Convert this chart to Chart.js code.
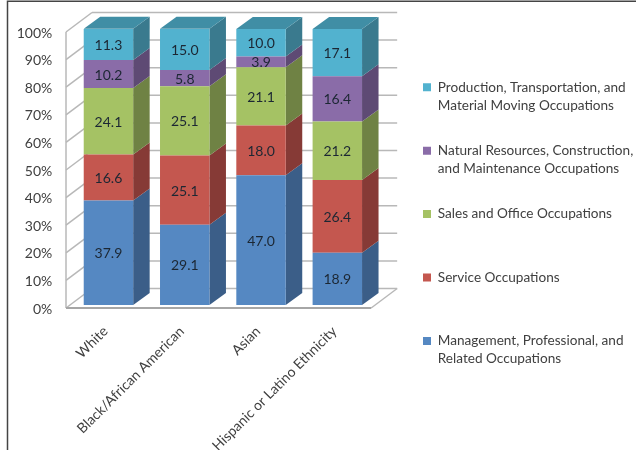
<!DOCTYPE html>
<html>
<head>
<meta charset="utf-8">
<title>Occupations by race and ethnicity</title>
<script src="https://cdn.jsdelivr.net/npm/chart.js@4/dist/chart.umd.min.js"></script>
<style>
    html, body { margin: 0; padding: 0; background: #fff; }
    canvas { display: block; }
</style>
</head>
<body>
<canvas id="occupationChart" width="636" height="450"></canvas>
<script>
const categories = ['White', 'Black/African American', 'Asian', 'Hispanic or Latino Ethnicity']

const management = [37.9, 29.1, 47.0, 18.9]
const service = [16.6, 25.1, 18.0, 26.4]
const salesOffice = [24.1, 25.1, 21.1, 21.2]
const naturalResources = [10.2, 5.8, 3.9, 16.4]
const production = [11.3, 15.0, 10.0, 17.1]

const seriesNames = [
    'Management, Professional, and Related Occupations',
    'Service Occupations',
    'Sales and Office Occupations',
    'Natural Resources, Construction, and Maintenance Occupations',
    'Production, Transportation, and Material Moving Occupations'
]
const legendLines = [
    ['Management, Professional, and', 'Related Occupations'],
    ['Service Occupations', ''],
    ['Sales and Office Occupations', ''],
    ['Natural Resources, Construction,', 'and Maintenance Occupations'],
    ['Production, Transportation, and', 'Material Moving Occupations']
]
const seriesValues = [management, service, salesOffice, naturalResources, production]

const frontColors = ['#5588c2', '#c4574f', '#a5c264', '#8a6ca8', '#52b2cf']
const sideColors = ['#3b5e88', '#863a36', '#6f8244', '#5e4a74', '#3a7a8e']
const topColor = '#408ea5'
const gridColor = '#b8b8b8'

// how far the 3D box goes back, and where the walls sit against the bars
const barDepth = { x: 16.5, y: -12 }
const wallFront = { x: -4.3, y: 3 }
const wallDepth = { x: 26, y: -19.5 }

const line = (ctx, x1, y1, x2, y2) => {
    ctx.beginPath()
    ctx.moveTo(x1, y1)
    ctx.lineTo(x2, y2)
    ctx.stroke()
}

const fillPoly = (ctx, points, color) => {
    ctx.fillStyle = color
    ctx.beginPath()
    points.forEach(([x, y], i) => i ? ctx.lineTo(x, y) : ctx.moveTo(x, y))
    ctx.closePath()
    ctx.fill()
}

const placeLegend = {
    id: 'placeLegend',
    afterLayout(chart) {
        chart.legend.left = 395.5
        chart.legend.right = 636
        chart.legend.top = 53
        chart.legend.bottom = 450
    }
}

const box3d = {
    id: 'box3d',
    beforeDraw(chart) {
        // frame of the original picture
        const { ctx } = chart
        ctx.save()
        ctx.strokeStyle = '#444444'
        ctx.lineWidth = 1.5
        ctx.beginPath()
        ctx.moveTo(7.5, 450)
        ctx.lineTo(7.5, 1.2)
        ctx.lineTo(636, 1.2)
        ctx.stroke()
        ctx.restore()
    },
    beforeDatasetsDraw(chart) {
        const { ctx, scales: { y }, chartArea } = chart
        const left = chartArea.left + wallFront.x
        const right = chartArea.right + wallFront.x
        ctx.save()
        ctx.strokeStyle = gridColor
        ctx.lineWidth = 1.5

        y.ticks.forEach(tick => {
            const py = y.getPixelForValue(tick.value) + wallFront.y
            line(ctx, left, py, left + wallDepth.x, py + wallDepth.y)
            line(ctx, left + wallDepth.x, py + wallDepth.y, right + wallDepth.x, py + wallDepth.y)
        })

        const zero = y.getPixelForValue(0) + wallFront.y
        const full = y.getPixelForValue(100) + wallFront.y
        line(ctx, left, full, left, zero)
        line(ctx, right, zero, right + wallDepth.x, zero + wallDepth.y)
        ctx.strokeStyle = '#a6a6a6'
        ctx.lineWidth = 2
        line(ctx, left, zero, right, zero)

        // sides and lid of each stack, drawn behind the library's front faces
        chart.data.datasets.forEach((dataset, i) => {
            chart.getDatasetMeta(i).data.forEach(bar => {
                const r = bar.x + bar.width / 2
                const l = bar.x - bar.width / 2
                fillPoly(ctx, [
                    [r, bar.y],
                    [r + barDepth.x, bar.y + barDepth.y],
                    [r + barDepth.x, bar.base + barDepth.y],
                    [r, bar.base]
                ], sideColors[i])
                if (i === chart.data.datasets.length - 1) {
                    fillPoly(ctx, [
                        [l, bar.y],
                        [l + barDepth.x, bar.y + barDepth.y],
                        [r + barDepth.x, bar.y + barDepth.y],
                        [r, bar.y]
                    ], topColor)
                }
            })
        })
        ctx.restore()
    },
    afterDatasetsDraw(chart) {
        const { ctx } = chart
        ctx.save()
        ctx.font = '14px Lato'
        ctx.fillStyle = '#1c2733'
        ctx.textAlign = 'center'
        ctx.textBaseline = 'middle'
        chart.data.datasets.forEach((dataset, i) => {
            chart.getDatasetMeta(i).data.forEach((bar, j) => {
                ctx.fillText(dataset.data[j].toFixed(1), bar.x, (bar.y + bar.base) / 2 + 1)
            })
        })
        ctx.restore()
    }
}

const ctx = document.getElementById('occupationChart').getContext('2d')

Chart.defaults.font.family = 'Lato'

new Chart(ctx, {
    type: 'bar',
    data: {
        labels: categories,
        datasets: seriesValues.map((values, i) => ({
            label: seriesNames[i],
            data: values,
            backgroundColor: frontColors[i],
            borderWidth: 0,
            categoryPercentage: 0.648,
            barPercentage: 1
        }))
    },
    options: {
        responsive: false,
        animation: false,
        layout: {
            padding: { top: 29, right: 12.8, bottom: 0, left: 0 }
        },
        scales: {
            x: {
                stacked: true,
                grid: { display: false, drawTicks: false },
                border: { display: false },
                afterFit: (scale) => { scale.height = 145 },
                ticks: {
                    autoSkip: false,
                    minRotation: 45,
                    maxRotation: 45,
                    padding: 18,
                    labelOffset: -3,
                    color: '#404040',
                    font: { size: 14 }
                }
            },
            y: {
                stacked: true,
                min: 0,
                max: 100,
                grid: { display: false, drawTicks: false },
                border: { display: false },
                afterFit: (scale) => { scale.width = 70.3 },
                ticks: {
                    stepSize: 10,
                    padding: 18,
                    labelOffset: 4,
                    color: '#404040',
                    font: { size: 14 },
                    callback: (value) => value + '%'
                }
            }
        },
        plugins: {
            tooltip: { enabled: false },
            legend: {
                position: 'right',
                align: 'start',
                maxWidth: 254.3,
                reverse: true,
                labels: {
                    boxWidth: 8,
                    boxHeight: 8,
                    padding: 27.5,
                    textAlign: 'left',
                    color: '#404040',
                    font: { size: 13.6, lineHeight: 1.32 },
                    generateLabels: (chart) => Chart.defaults.plugins.legend.labels.generateLabels(chart)
                        .map(item => ({ ...item, text: legendLines[item.datasetIndex], lineWidth: 0 }))
                }
            }
        }
    },
    plugins: [placeLegend, box3d]
})
</script>
</body>
</html>
